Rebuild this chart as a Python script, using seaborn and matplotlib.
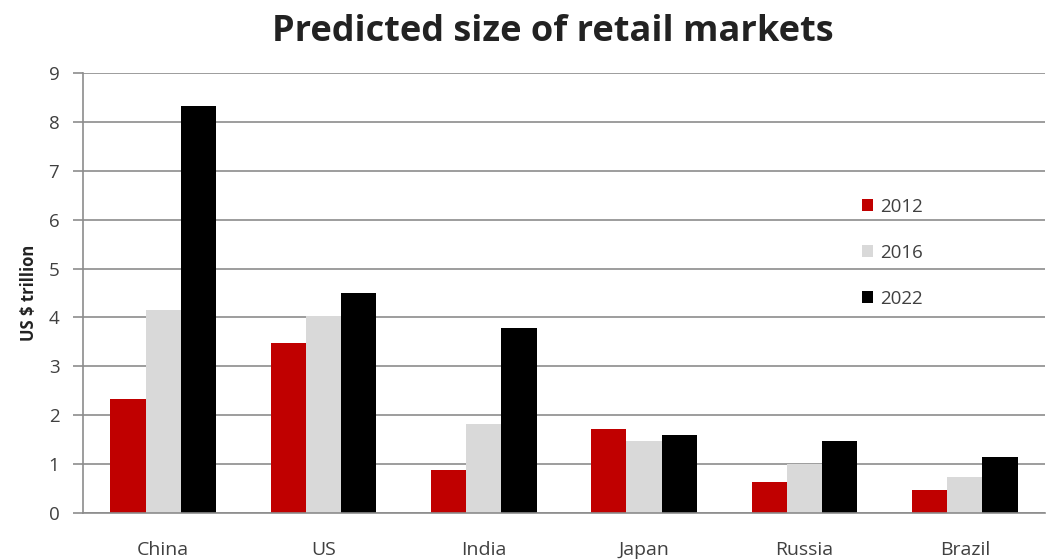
import matplotlib
matplotlib.use("Agg")
import matplotlib.pyplot as plt
import seaborn as sns
import pandas as pd
from matplotlib.patches import Patch

categories = ["China", "US", "India", "Japan", "Russia", "Brazil"]
years = ["2012", "2016", "2022"]
values_2012 = [2.33, 3.47, 0.88, 1.71, 0.63, 0.48]
values_2016 = [4.15, 4.03, 1.82, 1.48, 1.00, 0.73]
values_2022 = [8.33, 4.50, 3.78, 1.60, 1.48, 1.14]
colors = ["#C00000", "#D9D9D9", "#000000"]

rows = []
for yr, vals in zip(years, [values_2012, values_2016, values_2022]):
    for c, v in zip(categories, vals):
        rows.append({"country": c, "year": yr, "value": v})
df = pd.DataFrame(rows)

sns.set_style("white")
plt.rcParams["font.family"] = ["Open Sans", "DejaVu Sans"]

fig = plt.figure(figsize=(10.57, 5.6), dpi=100)
ax = fig.add_axes([0.0785, 0.0839, 0.9101, 0.7857])

sns.barplot(data=df, x="country", y="value", hue="year", order=categories,
            hue_order=years, palette=colors, width=0.66, gap=0,
            saturation=1, ax=ax, legend=False, linewidth=0)

ax.set_xlim(-0.5, 5.5)
ax.set_ylim(0, 9)
ax.set_yticks(range(10))
ax.yaxis.grid(True, color="#8C8C8C", linewidth=1.2)
ax.set_axisbelow(True)
for s in ["top", "right"]:
    ax.spines[s].set_visible(False)
for s in ["left", "bottom"]:
    ax.spines[s].set_color("#8C8C8C")
    ax.spines[s].set_linewidth(1.2)

ax.set_xticks(range(len(categories)))
ax.set_xticklabels(categories)
ax.set_xticks([i - 0.5 for i in range(len(categories) + 1)], minor=True)
ax.tick_params(axis="x", which="major", length=0, pad=20, labelsize=14, labelcolor="#404040")
ax.tick_params(axis="x", which="minor", length=6, color="#8C8C8C", width=1.2, direction="out")
ax.tick_params(axis="y", which="major", length=7, color="#8C8C8C", width=1.2,
               labelsize=13.5, labelcolor="#404040", pad=10, left=True)

ax.set_xlabel("")
ax.set_ylabel("US $ trillion", fontsize=12, fontweight="bold", color="#222222", labelpad=8)
fig.suptitle("Predicted size of retail markets", fontsize=26, fontweight="bold",
             x=0.523, y=0.975, color="#222222")

handles = [Patch(facecolor=c, edgecolor="none") for c in colors]
ax.legend(handles, years, loc="upper left", bbox_to_anchor=(0.792, 0.755),
          frameon=False, fontsize=13.5, handlelength=0.6, handleheight=0.6,
          handletextpad=0.4, labelspacing=1.5, labelcolor="#404040")

fig.savefig("out.png", dpi=100)
